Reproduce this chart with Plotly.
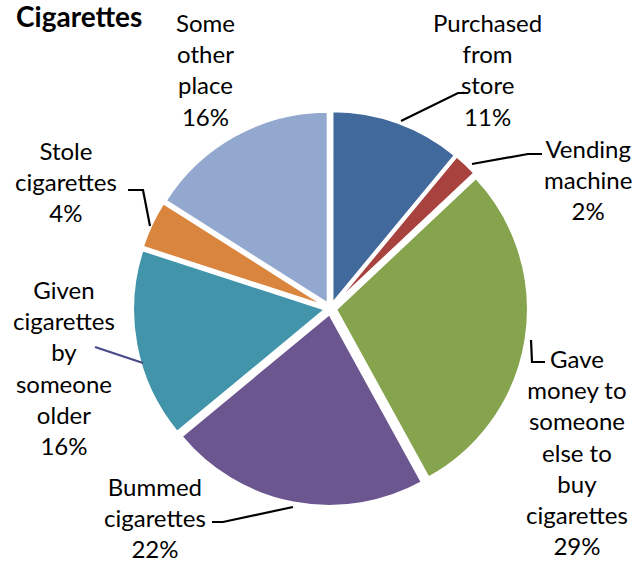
import plotly.graph_objects as go

W, H = 644, 562

# ---- data ----
categories = ["Purchased<br>from<br>store", "Vending<br>machine",
              "Gave<br>money to<br>someone<br>else to<br>buy<br>cigarettes",
              "Bummed<br>cigarettes", "Given<br>cigarettes<br>by<br>someone<br>older",
              "Stole<br>cigarettes", "Some<br>other<br>place"]
values = [11, 2, 29, 22, 16, 4, 16]
colors = ["#41699C", "#A8423F", "#86A44E", "#6C5690", "#4294AA", "#D9853E", "#93A8CE"]

# ---- layout helpers (pixel -> paper) ----
def px(x):
    return x / W

def py(y):
    return 1 - y / H

cx, cy, R, pull = 330.5, 308.5, 197.5, 0.03

fig = go.Figure(go.Pie(
    labels=categories, values=values, sort=False, direction="clockwise",
    rotation=0, textinfo="none", pull=pull, hoverinfo="label+percent",
    marker=dict(colors=colors, line=dict(color="white", width=2)),
    domain=dict(x=[px(cx - R), px(cx + R)], y=[py(cy + R), py(cy - R)]),
    showlegend=False,
))

# label text block centres (pixels)
label_pos = [(487, 69), (588, 179), (577, 452), (155, 517), (64, 367), (66, 181), (205, 69)]
total = sum(values)
font = dict(family="Lato, sans-serif", size=24, color="#000")
for lab, v, (lx, ly) in zip(categories, values, label_pos):
    pct = round(100 * v / total)
    fig.add_annotation(x=px(lx), y=py(ly), xref="paper", yref="paper",
                       text=f"{lab}<br>{pct}%", showarrow=False,
                       xanchor="center", yanchor="middle", font=font, align="center")

# leader lines (pixels)
leaders = [
    ([(401, 121), (458, 93), (468, 93)], "#000"),
    ([(472, 164), (528, 154), (542, 154)], "#000"),
    ([(531, 340), (532, 362), (545, 362)], "#000"),
    ([(293, 507), (223, 522), (212, 522)], "#000"),
    ([(95, 347), (143, 363)], "#4B4A8A"),
    ([(150, 226), (143, 190), (128, 190)], "#000"),
]
for pts, col in leaders:
    path = "M " + " L ".join(f"{px(x)},{py(y)}" for x, y in pts)
    fig.add_shape(type="path", path=path, xref="paper", yref="paper",
                  line=dict(color=col, width=2.2))

fig.add_annotation(x=px(14), y=py(16), xref="paper", yref="paper",
                   text="<b>Cigarettes</b>", showarrow=False,
                   xanchor="left", yanchor="middle",
                   font=dict(family="Lato, sans-serif", size=28, color="#000"))

fig.update_layout(width=W, height=H, margin=dict(l=0, r=0, t=0, b=0),
                  paper_bgcolor="white", plot_bgcolor="white")
fig.write_html("out.html")
